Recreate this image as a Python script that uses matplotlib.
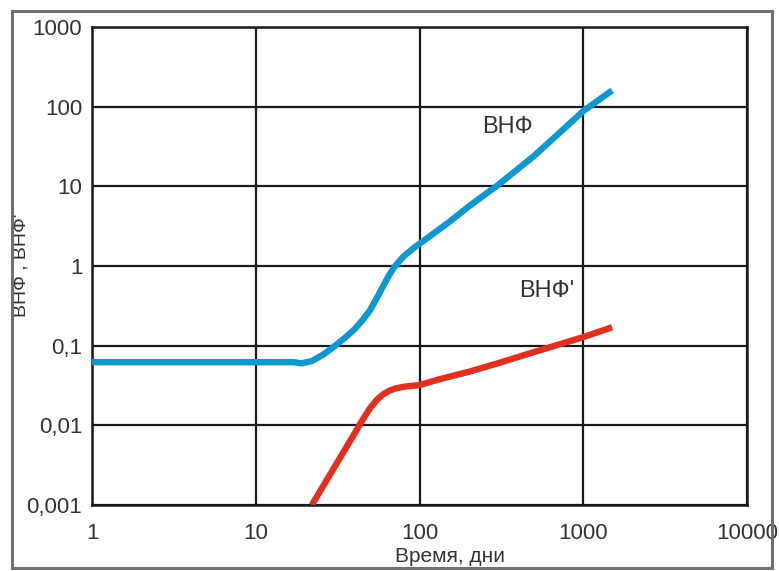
import matplotlib
matplotlib.use("Agg")
import matplotlib.pyplot as plt
from matplotlib.patches import Rectangle
from matplotlib.ticker import FixedLocator, FixedFormatter, NullLocator

plt.rcParams['font.family'] = ['Liberation Sans', 'DejaVu Sans']

# ВНФ curve (time in days, value)
vnf_days = [1, 10, 17, 19, 22, 26, 30, 35, 40, 45, 50, 55, 60, 65, 70, 75, 80,
            90, 100, 150, 200, 300, 500, 700, 1000, 1500]
vnf_vals = [0.062, 0.062, 0.062, 0.060, 0.064, 0.078, 0.097, 0.125, 0.16, 0.21,
            0.28, 0.40, 0.56, 0.76, 0.96, 1.14, 1.32, 1.62, 1.9, 3.5, 5.6,
            10.3, 24, 45, 88, 160]

# ВНФ' curve
vnf2_days = [22, 30, 40, 45, 50, 55, 60, 65, 70, 80, 100, 133, 200, 300, 500,
             1000, 1500]
vnf2_vals = [0.001, 0.0029, 0.0078, 0.0118, 0.0165, 0.021, 0.0245, 0.027,
             0.0287, 0.0305, 0.032, 0.038, 0.047, 0.060, 0.083, 0.128, 0.17]

x_ticks = [1, 10, 100, 1000, 10000]
x_tick_labels = ['1', '10', '100', '1000', '10000']
y_ticks = [0.001, 0.01, 0.1, 1, 10, 100, 1000]
y_tick_labels = ['0,001', '0,01', '0,1', '1', '10', '100', '1000']

W, H = 779, 571
fig = plt.figure(figsize=(W / 100, H / 100), dpi=100)
ax = fig.add_axes([92 / W, 1 - 505 / H, (747 - 92) / W, (505 - 27) / H])

ax.set_xscale('log')
ax.set_yscale('log')
ax.set_xlim(1, 10000)
ax.set_ylim(0.001, 1000)

ax.plot(vnf_days, vnf_vals, color='#0d98d2', lw=4.6, solid_capstyle='butt',
        solid_joinstyle='round', zorder=3)
ax.plot(vnf2_days, vnf2_vals, color='#e2301f', lw=4.6, solid_capstyle='butt',
        solid_joinstyle='round', zorder=3)

ax.xaxis.set_major_locator(FixedLocator(x_ticks))
ax.xaxis.set_major_formatter(FixedFormatter(x_tick_labels))
ax.yaxis.set_major_locator(FixedLocator(y_ticks))
ax.yaxis.set_major_formatter(FixedFormatter(y_tick_labels))
ax.xaxis.set_minor_locator(NullLocator())
ax.yaxis.set_minor_locator(NullLocator())

ax.tick_params(axis='both', length=0, labelsize=16, colors='#333333')
ax.tick_params(axis='x', pad=13)
ax.tick_params(axis='y', pad=7)
ax.grid(True, which='major', color='#1a1a1a', lw=1.6, zorder=1)
for s in ax.spines.values():
    s.set_color('#1a1a1a')
    s.set_linewidth(1.8)

# curve labels placed in figure coordinates
fig.text(507 / W, 1 - 127 / H, 'ВНФ', fontsize=17, color='#333333',
         ha='center', va='center')
fig.text(547 / W, 1 - 291 / H, "ВНФ'", fontsize=17, color='#333333',
         ha='center', va='center')

fig.text(450 / W, 1 - 556 / H, 'Время, дни', fontsize=15, color='#333333',
         ha='center', va='center')
fig.text(21 / W, 1 - 265 / H, "ВНФ , ВНФ'", fontsize=14, color='#333333',
         ha='center', va='center', rotation=90)

# frame around the whole figure
fig.patches.append(Rectangle((12 / W, 1 - 568 / H), (772 - 12) / W, (568 - 11) / H,
                             transform=fig.transFigure, fill=False,
                             edgecolor='#707070', lw=2.2, zorder=10))

fig.savefig('out.png', dpi=100)
